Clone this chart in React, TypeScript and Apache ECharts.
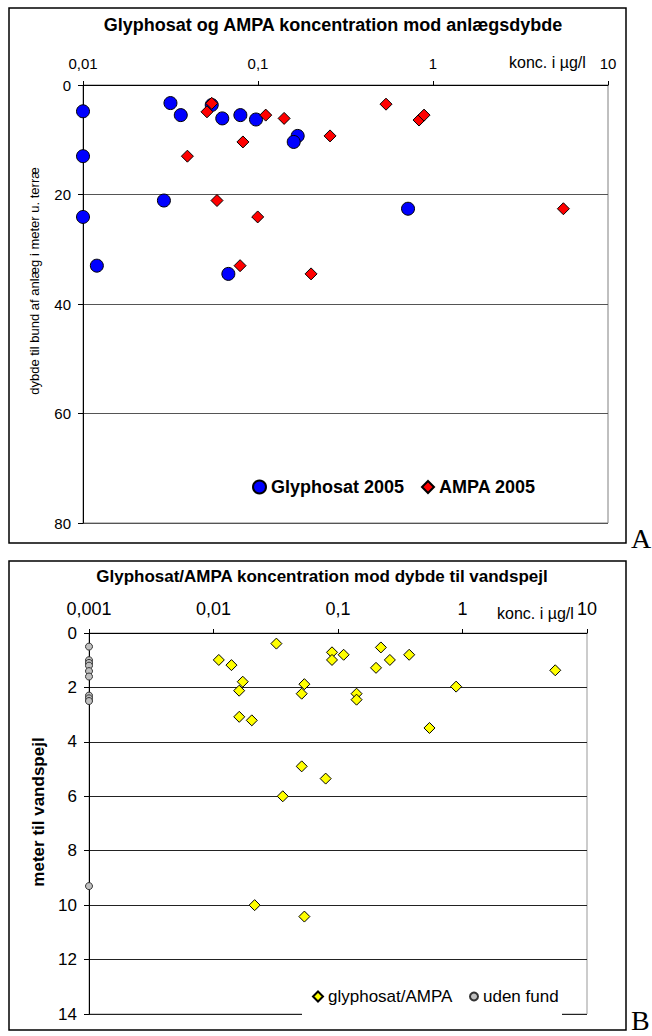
import React, { useEffect, useRef } from 'react';
import * as echarts from 'echarts';

const topTitle = 'Glyphosat og AMPA koncentration mod anlægsdybde';
const bottomTitle = 'Glyphosat/AMPA koncentration mod dybde til vandspejl';
const topYName = 'dybde til bund af anlæg i meter u. terræ';
const bottomYName = 'meter til vandspejl';
const unitLabel = 'konc. i µg/l';

const topXTicks = [0.01, 0.1, 1, 10];
const topXTickLabels = ['0,01', '0,1', '1', '10'];
const bottomXTicks = [0.001, 0.01, 0.1, 1, 10];
const bottomXTickLabels = ['0,001', '0,01', '0,1', '1', '10'];
const topDepthTicks = [0, 20, 40, 60, 80];
const bottomDepthTicks = [0, 2, 4, 6, 8, 10, 12, 14];

// Chart A
const glyphosatConc = [0.01, 0.01, 0.01, 0.012, 0.0316, 0.0362, 0.029, 0.0544, 0.0625, 0.0793, 0.0974, 0.0677, 0.1686, 0.16, 0.72];
const glyphosatDepth = [4.8, 13.0, 24.1, 33.0, 3.3, 5.5, 21.1, 3.65, 6.1, 5.5, 6.3, 34.5, 9.3, 10.4, 22.6];
const ampaConc = [0.0544, 0.0511, 0.0395, 0.0583, 0.082, 0.1107, 0.141, 0.0996, 0.079, 0.201, 0.258, 0.539, 0.832, 0.889, 5.56];
const ampaDepth = [3.35, 4.9, 13.0, 21.1, 10.4, 5.5, 6.1, 24.1, 33.0, 34.5, 9.3, 3.5, 6.4, 5.5, 22.6];

// Chart B
const foundConc = [0.01103, 0.01394, 0.01718, 0.01607, 0.0161, 0.0203, 0.032, 0.0537, 0.0511, 0.0511, 0.036, 0.0796, 0.0214, 0.0537, 0.0895, 0.0895, 0.111, 0.141, 0.141, 0.221, 0.261, 0.202, 0.373, 0.889, 0.543, 5.56];
const foundDepth = [0.99, 1.18, 1.79, 2.12, 3.08, 3.21, 0.39, 1.88, 2.23, 4.9, 6.0, 5.35, 10.0, 10.42, 0.71, 0.99, 0.8, 2.23, 2.45, 0.53, 0.99, 1.28, 0.8, 1.97, 3.49, 1.37];
const notFoundConc = [0.001, 0.001, 0.001, 0.001, 0.001, 0.001, 0.001, 0.001, 0.001, 0.001];
const notFoundDepth = [0.5, 1.0, 1.1, 1.2, 1.4, 1.6, 2.3, 2.4, 2.5, 9.3];

const seriesNames = ['Glyphosat 2005', 'AMPA 2005', 'glyphosat/AMPA', 'uden fund'];

const FONT = '"Liberation Sans", Arial, sans-serif';
const SERIF = '"Liberation Serif", "Times New Roman", serif';

const zip = (xs: number[], ys: number[]) => xs.map((x, i) => [x, ys[i]]);

const logLabel = (ticks: number[], labels: string[]) => (v: number) => {
  const i = ticks.findIndex((t) => Math.abs(Math.log10(t) - Math.log10(v)) < 1e-6);
  return i >= 0 ? labels[i] : '';
};

export default function App() {
  const ref = useRef<HTMLDivElement>(null);
  useEffect(() => {
    if (!ref.current) return;
    const chart = echarts.init(ref.current, undefined, { renderer: 'svg' });
    const xAxisCommon = (gridIndex: number, ticks: number[], labels: string[], fontSize: number, margin: number) => ({
      type: 'log',
      logBase: 10,
      gridIndex,
      position: 'top',
      min: ticks[0],
      max: ticks[ticks.length - 1],
      axisLine: { show: true, onZero: false, lineStyle: { color: '#000', width: 1 } },
      axisTick: { show: true, inside: false, length: 4, lineStyle: { color: '#000' } },
      axisLabel: { show: true, color: '#000', fontSize, fontFamily: FONT, margin, formatter: logLabel(ticks, labels) },
      splitLine: { show: false },
      minorTick: { show: false },
    });
    const yAxisCommon = (gridIndex: number, ticks: number[], fontSize: number, margin: number, splitColor: string) => ({
      type: 'value',
      gridIndex,
      inverse: true,
      min: ticks[0],
      max: ticks[ticks.length - 1],
      interval: ticks[1] - ticks[0],
      axisLine: { show: true, onZero: false, lineStyle: { color: '#000', width: 1 } },
      axisTick: { show: true, inside: false, length: 5, lineStyle: { color: '#000' } },
      axisLabel: { show: true, color: '#000', fontSize, fontFamily: FONT, margin },
      splitLine: { show: true, lineStyle: { color: splitColor, width: 1 } },
    });
    const option: any = {
      animation: false,
      backgroundColor: '#fff',
      grid: [
        { left: 83, top: 85, width: 525, height: 438, show: true, borderColor: '#808080', borderWidth: 1, backgroundColor: 'transparent' },
        { left: 89, top: 633, width: 498, height: 381, show: true, borderColor: '#999', borderWidth: 1, backgroundColor: 'transparent' },
      ],
      xAxis: [
        xAxisCommon(0, topXTicks, topXTickLabels, 15, 14),
        xAxisCommon(1, bottomXTicks, bottomXTickLabels, 18, 15),
      ],
      yAxis: [
        yAxisCommon(0, topDepthTicks, 15, 12, '#555'),
        yAxisCommon(1, bottomDepthTicks, 17, 12, '#222'),
      ],
      legend: [
        {
          data: [{ name: seriesNames[0], icon: 'circle' }],
          left: 252, top: 478, padding: 0, itemWidth: 13, itemHeight: 13, selectedMode: false, z: 10,
          textStyle: { fontSize: 18, fontWeight: 'bold', fontFamily: FONT, color: '#000' },
        },
        {
          data: [{ name: seriesNames[1], icon: 'diamond' }],
          left: 421, top: 478, padding: 0, itemWidth: 12, itemHeight: 12, selectedMode: false, z: 10,
          textStyle: { fontSize: 18, fontWeight: 'bold', fontFamily: FONT, color: '#000' },
        },
        {
          data: [{ name: seriesNames[2], icon: 'diamond' }],
          left: 312, top: 988, padding: 0, itemWidth: 10, itemHeight: 10, selectedMode: false, z: 10,
          textStyle: { fontSize: 17, fontFamily: FONT, color: '#000' },
        },
        {
          data: [{ name: seriesNames[3], icon: 'circle' }],
          left: 469, top: 988, padding: 0, itemWidth: 8, itemHeight: 8, selectedMode: false, z: 10,
          textStyle: { fontSize: 17, fontFamily: FONT, color: '#000' },
        },
      ],
      series: [
        {
          name: seriesNames[0], type: 'scatter', xAxisIndex: 0, yAxisIndex: 0, clip: false,
          symbol: 'circle', symbolSize: 13, data: zip(glyphosatConc, glyphosatDepth),
          itemStyle: { color: '#0000ff', borderColor: '#000', borderWidth: 1, opacity: 1 },
        },
        {
          name: seriesNames[1], type: 'scatter', xAxisIndex: 0, yAxisIndex: 0, clip: false,
          symbol: 'diamond', symbolSize: 12, data: zip(ampaConc, ampaDepth),
          itemStyle: { color: '#ff0000', borderColor: '#000', borderWidth: 1, opacity: 1 },
        },
        {
          name: seriesNames[2], type: 'scatter', xAxisIndex: 1, yAxisIndex: 1, clip: false,
          symbol: 'diamond', symbolSize: 11, data: zip(foundConc, foundDepth),
          itemStyle: { color: '#ffff00', borderColor: '#000', borderWidth: 1, opacity: 1 },
        },
        {
          name: seriesNames[3], type: 'scatter', xAxisIndex: 1, yAxisIndex: 1, clip: false,
          symbol: 'circle', symbolSize: 7, data: zip(notFoundConc, notFoundDepth),
          itemStyle: { color: '#c0c0c0', borderColor: '#333', borderWidth: 1, opacity: 1 },
        },
      ],
      graphic: [
        { type: 'rect', z: 1, shape: { x: 9, y: 8, width: 617, height: 535 }, style: { fill: 'none', stroke: '#000', lineWidth: 1.5 } },
        { type: 'rect', z: 1, shape: { x: 9, y: 561, width: 617, height: 469 }, style: { fill: 'none', stroke: '#000', lineWidth: 1.5 } },
        { type: 'rect', z: 5, shape: { x: 302, y: 984, width: 260, height: 34 }, style: { fill: '#fff', stroke: 'none' } },
        { type: 'text', x: 333, y: 25, style: { text: topTitle, fontSize: 18, fontWeight: 'bold', fontFamily: FONT, fill: '#000', align: 'center', verticalAlign: 'middle' } },
        { type: 'text', x: 322, y: 576, style: { text: bottomTitle, fontSize: 17, fontWeight: 'bold', fontFamily: FONT, fill: '#000', align: 'center', verticalAlign: 'middle' } },
        { type: 'text', x: 509, y: 62, style: { text: unitLabel, fontSize: 16, fontFamily: FONT, fill: '#000', align: 'left', verticalAlign: 'middle' } },
        { type: 'text', x: 497, y: 613, style: { text: unitLabel, fontSize: 16, fontFamily: FONT, fill: '#000', align: 'left', verticalAlign: 'middle' } },
        { type: 'text', x: 34, y: 281, rotation: Math.PI / 2, style: { text: topYName, fontSize: 13, fontFamily: FONT, fill: '#000', align: 'center', verticalAlign: 'middle' } },
        { type: 'text', x: 38, y: 812, rotation: Math.PI / 2, style: { text: bottomYName, fontSize: 17, fontWeight: 'bold', fontFamily: FONT, fill: '#000', align: 'center', verticalAlign: 'middle' } },
        { type: 'text', x: 631, y: 538, style: { text: 'A', fontSize: 28, fontFamily: SERIF, fill: '#000', align: 'left', verticalAlign: 'middle' } },
        { type: 'text', x: 631, y: 1020, style: { text: 'B', fontSize: 28, fontFamily: SERIF, fill: '#000', align: 'left', verticalAlign: 'middle' } },
      ],
    };
    chart.setOption(option);
    return () => chart.dispose();
  }, []);
  return <div ref={ref} style={{ position: 'fixed', left: 0, top: 0, width: 652, height: 1036 }} />;
}
